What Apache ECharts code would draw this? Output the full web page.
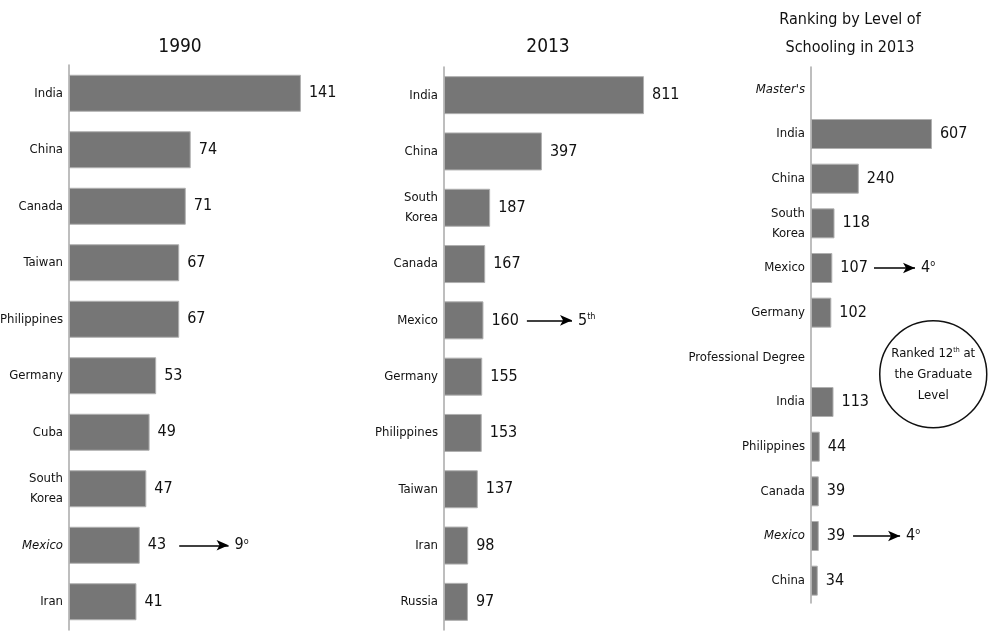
<!DOCTYPE html>
<html>
<head>
<meta charset="utf-8">
<script src="https://cdn.jsdelivr.net/npm/echarts@6/dist/echarts.min.js"></script>
<style>html,body{margin:0;padding:0;background:#fff}#c{width:990px;height:634px}</style>
</head>
<body>
<div id="c"></div>
<script>
var FONT = "'Liberation Sans Narrow','DejaVu Sans Condensed',sans-serif";

var titles = ['1990', '2013', 'Ranking by Level of\nSchooling in 2013'];

var cat1990 = ['India', 'China', 'Canada', 'Taiwan', 'Philippines', 'Germany', 'Cuba', 'South\nKorea', 'Mexico', 'Iran'];
var val1990 = [141, 74, 71, 67, 67, 53, 49, 47, 43, 41];
var italic1990 = [8];

var cat2013 = ['India', 'China', 'South\nKorea', 'Canada', 'Mexico', 'Germany', 'Philippines', 'Taiwan', 'Iran', 'Russia'];
var val2013 = [811, 397, 187, 167, 160, 155, 153, 137, 98, 97];
var italic2013 = [];

var catLevel = ["Master's", 'India', 'China', 'South\nKorea', 'Mexico', 'Germany', 'Professional Degree', 'India', 'Philippines', 'Canada', 'Mexico', 'China'];
var valLevel = [null, 607, 240, 118, 107, 102, null, 113, 44, 39, 39, 34];
var italicLevel = [0, 10];

// Mexico rank annotations: [row index, arrow start value, arrow end value, rank text]
var rank1990 = [[8, 67, 97, '9{s|o}']];
var rank2013 = [[4, 336, 519, '5{s|th}']];
var rankLevel = [[4, 316, 522, '4{s|o}'], [10, 211, 447, '4{s|o}']];

var xMax = [150, 900, 700];

var grids = [
  {left: 69, top: 65, width: 246.75, height: 565, containLabel: false, outerBoundsMode: 'none'},
  {left: 444, top: 67, width: 222, height: 563, containLabel: false, outerBoundsMode: 'none'},
  {left: 811, top: 67, width: 139.5, height: 536, containLabel: false, outerBoundsMode: 'none'}
];

var cats = [cat1990, cat2013, catLevel];
var vals = [val1990, val2013, valLevel];
var italics = [italic1990, italic2013, italicLevel];
var ranks = [rank1990, rank2013, rankLevel];
var barW = [37, 38, 30];

var option = {
  backgroundColor: '#fff',
  animation: false,
  textStyle: {fontFamily: FONT},
  title: [
    {text: titles[0], left: 175, top: 33, textAlign: 'center', textStyle: {fontFamily: FONT, fontSize: 19, fontWeight: 'normal', color: '#111'}},
    {text: titles[1], left: 543, top: 33, textAlign: 'center', textStyle: {fontFamily: FONT, fontSize: 19, fontWeight: 'normal', color: '#111'}},
    {text: titles[2], left: 845, top: 1, textAlign: 'center', textStyle: {fontFamily: FONT, fontSize: 16, fontWeight: 'normal', color: '#111', lineHeight: 28}}
  ],
  grid: grids,
  xAxis: grids.map(function (g, i) {
    return {type: 'value', gridIndex: i, min: 0, max: xMax[i], show: false, splitLine: {show: false}};
  }),
  yAxis: grids.map(function (g, i) {
    var it = italics[i];
    return {
      type: 'category', gridIndex: i, inverse: true, data: cats[i],
      axisLine: {show: true, lineStyle: {color: '#a8a8a8', width: 1.5}},
      axisTick: {show: false},
      axisLabel: {
        margin: 6, fontFamily: FONT, fontSize: 13, color: '#111', lineHeight: 20,
        formatter: function (v, idx) { return it.indexOf(idx) >= 0 ? '{i|' + v + '}' : v; },
        rich: {i: {fontStyle: 'italic', fontFamily: FONT, fontSize: 13, color: '#111'}}
      }
    };
  }),
  series: grids.map(function (g, i) {
    return {
      type: 'bar', xAxisIndex: i, yAxisIndex: i, data: vals[i], barWidth: barW[i],
      itemStyle: {color: '#767676', borderColor: '#b0b0b0', borderWidth: 1},
      label: {show: true, position: 'right', distance: 8, fontFamily: FONT, fontSize: 16, color: '#111'},
      markLine: {
        silent: true, symbol: ['none', 'arrow'], symbolSize: [8, 12],
        lineStyle: {color: '#000', width: 1.5, type: 'solid'},
        label: {
          show: true, position: 'end', distance: 6, fontFamily: FONT, fontSize: 16, color: '#111',
          formatter: function (p) { return p.data.rankText; },
          rich: {s: {fontSize: 9, fontFamily: FONT, color: '#111', padding: [0, 0, 8, 0]}}
        },
        data: ranks[i].map(function (r) {
          return [{coord: [r[1], r[0]], rankText: r[3]}, {coord: [r[2], r[0]]}];
        })
      }
    };
  }),
  graphic: [{
    type: 'group', left: 879, top: 320,
    children: [
      {type: 'circle', shape: {cx: 54, cy: 54, r: 53.5}, style: {fill: '#fff', stroke: '#111', lineWidth: 1.5}},
      {type: 'text', x: 54, y: 54, style: {
        text: 'Ranked 12{s|th} at\nthe Graduate\nLevel', align: 'center', verticalAlign: 'middle',
        fontFamily: FONT, fontSize: 13, lineHeight: 21, fill: '#111',
        rich: {s: {fontSize: 7, fontFamily: FONT, fill: '#111', padding: [0, 0, 7, 0]}}
      }}
    ]
  }]
};

echarts.init(document.getElementById('c'), null, {renderer: 'canvas'}).setOption(option);
</script>
</body>
</html>
